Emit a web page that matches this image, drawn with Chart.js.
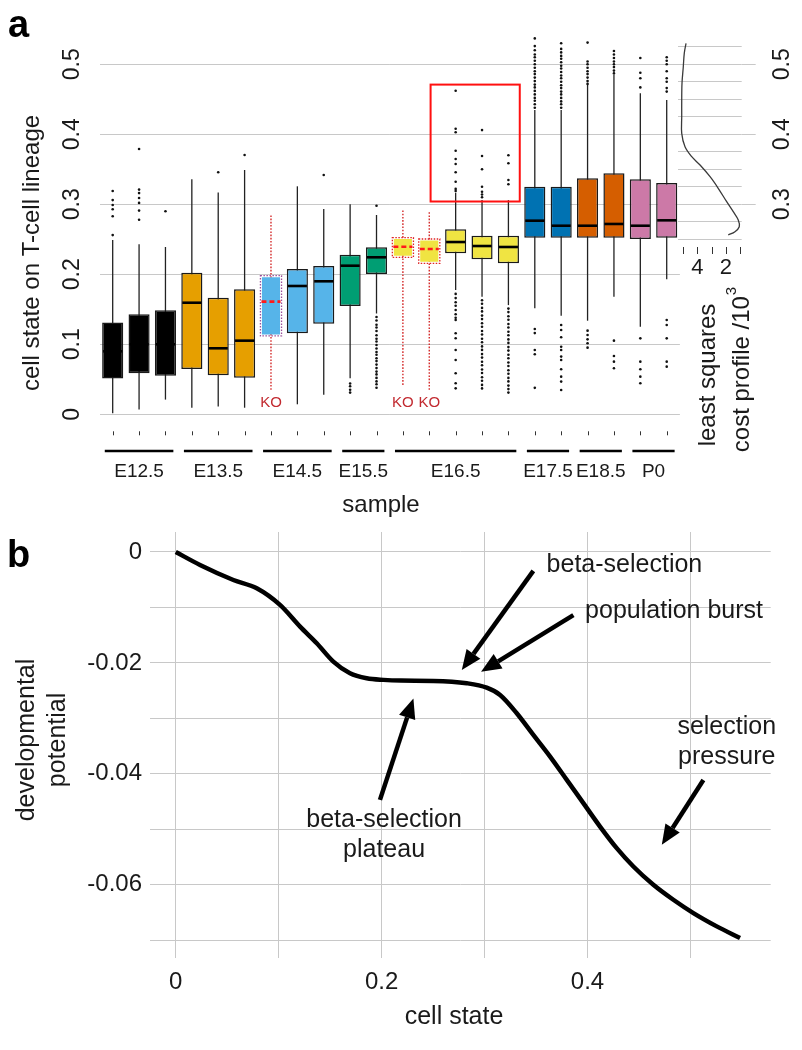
<!DOCTYPE html>
<html>
<head>
<meta charset="utf-8">
<script src="https://cdn.jsdelivr.net/npm/chart.js@4.4.0/dist/chart.umd.min.js"></script>
<style>
  body { margin: 0; background: #fff; }
  #wrap { position: relative; width: 802px; height: 1050px; }
  canvas { position: absolute; }
</style>
</head>
<body>
<div id="wrap">
  <canvas id="boxes" width="802" height="520" style="left:0;top:0"></canvas>
  <canvas id="profile" width="142" height="520" style="left:660px;top:0"></canvas>
  <canvas id="potential" width="802" height="530" style="left:0;top:520px"></canvas>
</div>
<script>
// ---- panel a: cell state per sample ----
const samples = ['E12.5 #1','E12.5 #2','E12.5 #3','E13.5 #1','E13.5 #2','E13.5 #3',
  'E14.5 KO','E14.5 #1','E14.5 #2','E15.5 #1','E15.5 #2',
  'E16.5 KO1','E16.5 KO2','E16.5 #1','E16.5 #2','E16.5 #3',
  'E17.5 #1','E17.5 #2','E18.5 #1','E18.5 #2','P0 #1','P0 #2'];
const q1 = [0.051,0.0586,0.055,0.0647,0.0557,0.0523,0.1119,0.1157,0.1294,0.1547,0.2004,
  0.2243,0.2157,0.23,0.2214,0.2157,0.2523,0.2523,0.2523,0.2523,0.2504,0.2523];
const q3 = [0.131,0.143,0.1486,0.2023,0.1666,0.1786,0.198,0.2076,0.2119,0.228,0.2386,
  0.2524,0.2504,0.2643,0.2551,0.2551,0.3251,0.3251,0.3371,0.3443,0.3357,0.3304];
const medians = [0.09,0.1,0.1,0.1594,0.0943,0.1052,0.161,0.1833,0.19,0.2123,0.2243,
  0.2394,0.2361,0.2461,0.2404,0.239,0.2766,0.2694,0.2694,0.2719,0.2694,0.2771];
const whiskerLow = [0.0014,0.007,0.021,0.0094,0.011,0.0094,0.035,0.0143,0.028,0.0514,0.144,
  0.042,0.035,0.1776,0.168,0.156,0.1514,0.1409,0.1337,0.168,0.125,0.1929];
const whiskerHigh = [0.249,0.243,0.239,0.3357,0.317,0.349,0.2847,0.3257,0.2933,0.30,0.2847,
  0.2919,0.2904,0.3166,0.3061,0.306,0.4347,0.4347,0.4704,0.4847,0.4586,0.449];
const outliers = [
  [0.256,0.283,0.293,0.299,0.306,0.319],
  [0.278,0.291,0.302,0.309,0.316,0.321,0.379],
  [0.29],
  [],
  [0.3457],
  [0.3704],
  [],
  [],
  [0.3419],
  [0.044,0.040,0.035,0.031],
  [0.298,0.139,0.134,0.128,0.124,0.119,0.113,0.108,0.104,0.099,0.094,0.089,0.085,0.08,0.076,
   0.071,0.066,0.061,0.057,0.052,0.047,0.043,0.038],
  [],
  [],
  [0.319,0.322,0.3323,0.3457,0.3576,0.3647,0.3766,0.4029,0.408,0.4623,
   0.172,0.166,0.16,0.155,0.149,0.143,0.138,0.1347,0.1157,0.1086,0.0919,0.0776,0.0586,0.0443,0.0371],
  [0.31,0.314,0.318,0.325,0.35,0.369,0.406,
   0.163,0.158,0.152,0.147,0.141,0.136,0.13,0.125,0.119,0.114,0.108,0.103,0.097,0.092,0.086,
   0.081,0.075,0.07,0.064,0.059,0.053,0.048,0.042,0.037],
  [0.3286,0.3347,0.3586,0.37,
   0.151,0.146,0.14,0.135,0.129,0.124,0.118,0.113,0.107,0.102,0.096,0.091,0.085,0.08,0.074,
   0.069,0.063,0.058,0.052,0.047,0.041,0.036,0.031],
  [0.438,0.443,0.448,0.452,0.457,0.462,0.467,0.471,0.476,0.481,0.486,0.49,0.495,0.5,0.505,
   0.51,0.514,0.52,0.526,0.537,0.1218,0.116,0.0919,0.0857,0.0378],
  [0.438,0.443,0.447,0.452,0.457,0.461,0.466,0.47,0.475,0.48,0.484,0.489,0.494,0.498,0.503,
   0.508,0.512,0.517,0.522,0.53,
   0.1276,0.1204,0.11,0.0966,0.0919,0.0824,0.0776,0.0643,0.0538,0.0467,0.0348],
  [0.472,0.476,0.481,0.486,0.49,0.495,0.5,0.504,0.531,0.1195,0.1133,0.1071,0.1014,0.0952],
  [0.487,0.491,0.496,0.5,0.504,0.509,0.514,0.519,0.1052,0.0833,0.0752,0.0657],
  [0.467,0.48,0.488,0.509,0.1085,0.0752,0.0643,0.0538,0.0443],
  [0.461,0.466,0.475,0.48,0.49,0.5,0.505,0.51,0.1347,0.1276,0.1085,0.0752,0.0681]
];
const knockout = [6, 11, 12];
const groups = ['E12.5','E13.5','E14.5','E15.5','E16.5','E17.5','E18.5','P0'];
const groupStart = [0, 3, 6, 9, 11, 16, 18, 20];
const groupEnd = [2, 5, 8, 10, 15, 17, 19, 21];
const yTicksA = [0, 0.1, 0.2, 0.3, 0.4, 0.5];

// marginal cost profile
const profileState = [0.530,0.516,0.4966,0.4729,0.449,0.4251,0.4014,0.3823,0.368,0.3561,
  0.3394,0.3229,0.3037,0.2894,0.2776,0.268,0.2609,0.2561];
const profileCost = [4.79,4.91,4.98,5.07,5.09,5.09,5.09,4.86,4.39,3.81,
  3.11,2.54,1.95,1.49,1.14,1.07,1.37,1.84];
const profileTicks = [5, 4, 3, 2, 1];
const profileTickLabels = ['', '4', '', '2', ''];
const profileGrid = [0.25,0.275,0.3,0.325,0.35,0.375,0.4,0.425,0.45,0.475,0.5,0.525];
const rightTicks = [0.3, 0.4, 0.5];

// ---- panel b: developmental potential ----
const cellState = [0,0.0236,0.056,0.0787,0.1013,0.1208,0.137,0.1531,0.1693,0.1856,0.2017,
  0.2186,0.2503,0.2827,0.3021,0.3151,0.3313,0.3474,0.3637,0.3799,0.396,0.4122,0.4284,
  0.4446,0.464,0.4834,0.5029,0.5256,0.5482];
const potential = [0,-0.00234,-0.00505,-0.00655,-0.00955,-0.01346,-0.01645,-0.01976,-0.02186,
  -0.02276,-0.02306,-0.02319,-0.02324,-0.02366,-0.02445,-0.02577,-0.02907,-0.03297,-0.03688,
  -0.04108,-0.04528,-0.0495,-0.05339,-0.0567,-0.06,-0.0627,-0.0651,-0.0675,-0.0696];
const xTicksB = [0, 0.1, 0.2, 0.3, 0.4, 0.5];
const xLabelsB = ['0', '', '0.2', '', '0.4', ''];
const yTicksB = [0, -0.01, -0.02, -0.03, -0.04, -0.05, -0.06, -0.07];
const yLabelsB = ['0', '', '-0.02', '', '-0.04', '', '-0.06', ''];

const notes = [
  { text: ['beta-selection'], x: 0.3603, y: -0.0023, align: 'left' },
  { text: ['population burst'], x: 0.3977, y: -0.0106, align: 'left' },
  { text: ['selection', 'pressure'], x: 0.5353, y: -0.0315, align: 'center' },
  { text: ['beta-selection', 'plateau'], x: 0.2024, y: -0.0483, align: 'center' }
];
const arrows = [
  { from: [0.3474, -0.0034], to: [0.2779, -0.0213] },
  { from: [0.3863, -0.0114], to: [0.2966, -0.0216] },
  { from: [0.1984, -0.0447], to: [0.2309, -0.0264] },
  { from: [0.5126, -0.0411], to: [0.4722, -0.0528] }
];

const FONT = '"Liberation Sans", Arial, Helvetica, sans-serif';
const INK = '#1a1a1a';
const GRID = '#c8c8c8';
const palette = ['#000000','#000000','#000000','#E69F00','#E69F00','#E69F00',
  '#56B4E9','#56B4E9','#56B4E9','#009E73','#009E73',
  '#F0E442','#F0E442','#F0E442','#F0E442','#F0E442',
  '#0072B2','#0072B2','#D55E00','#D55E00','#CC79A7','#CC79A7'];
const koEdge = { 6: '#9a4f9a', 11: '#e02424', 12: '#e02424' };

function rotText(ctx, txt, x, y, font) {
  ctx.save();
  ctx.translate(x, y);
  ctx.rotate(-Math.PI / 2);
  ctx.font = font;
  ctx.textAlign = 'center';
  ctx.textBaseline = 'middle';
  ctx.fillText(txt, 0, 0);
  ctx.restore();
}

const boxExtras = {
  id: 'boxExtras',
  beforeDatasetsDraw(chart) {
    const { ctx, scales: { x, y } } = chart;
    ctx.save();
    samples.forEach((s, i) => {
      const px = x.getPixelForValue(i);
      const ko = knockout.includes(i);
      ctx.strokeStyle = ko ? '#d42a2a' : '#222';
      ctx.lineWidth = ko ? 1.4 : 1.3;
      ctx.setLineDash(ko ? [1.6, 1.6] : []);
      ctx.beginPath();
      ctx.moveTo(px, y.getPixelForValue(whiskerLow[i]));
      ctx.lineTo(px, y.getPixelForValue(whiskerHigh[i]));
      ctx.stroke();
    });
    ctx.restore();
  },
  afterDatasetsDraw(chart) {
    const { ctx, scales: { x, y } } = chart;
    const bars = chart.getDatasetMeta(0).data;
    ctx.save();
    samples.forEach((s, i) => {
      const b = bars[i];
      const l = b.x - b.width / 2, r = b.x + b.width / 2;
      const ko = knockout.includes(i);
      if (ko) {
        ctx.strokeStyle = koEdge[i];
        ctx.lineWidth = 1.3;
        ctx.setLineDash([1.5, 1.5]);
        const t = y.getPixelForValue(q3[i]), bt = y.getPixelForValue(q1[i]);
        ctx.strokeRect(l, t, r - l, bt - t);
      }
      ctx.strokeStyle = ko ? '#ff1a1a' : '#000';
      ctx.lineWidth = 2.6;
      ctx.setLineDash(ko ? [5, 3] : []);
      const m = y.getPixelForValue(medians[i]);
      ctx.beginPath();
      ctx.moveTo(l + 1, m);
      ctx.lineTo(r - 1, m);
      ctx.stroke();
    });
    ctx.setLineDash([]);
    // highlighted region (red frame)
    ctx.strokeStyle = '#ff1010';
    ctx.lineWidth = 2;
    const hx0 = x.getPixelForValue(12.05), hx1 = x.getPixelForValue(15.43);
    const hy0 = y.getPixelForValue(0.471), hy1 = y.getPixelForValue(0.304);
    ctx.strokeRect(hx0, hy0, hx1 - hx0, hy1 - hy0);
    ctx.restore();
  },
  afterDraw(chart) {
    const { ctx, chartArea, scales: { x, y } } = chart;
    ctx.save();
    ctx.fillStyle = INK;
    yTicksA.forEach(v => rotText(ctx, String(v), 72.5, y.getPixelForValue(v), '23px ' + FONT));
    rotText(ctx, 'cell state on T-cell lineage', 32, 253, '24px ' + FONT);
    // category ticks
    ctx.strokeStyle = '#333';
    ctx.lineWidth = 1;
    samples.forEach((s, i) => {
      const px = Math.round(x.getPixelForValue(i)) + 0.5;
      ctx.beginPath();
      ctx.moveTo(px, chartArea.bottom + 3);
      ctx.lineTo(px, chartArea.bottom + 7);
      ctx.stroke();
    });
    // group bars and labels
    ctx.strokeStyle = '#000';
    ctx.lineWidth = 2.6;
    ctx.font = '19px ' + FONT;
    ctx.textAlign = 'center';
    ctx.textBaseline = 'middle';
    groups.forEach((g, k) => {
      const a = x.getPixelForValue(groupStart[k] - 0.3);
      const b = x.getPixelForValue(groupEnd[k] + 0.3);
      ctx.beginPath();
      ctx.moveTo(a, 451);
      ctx.lineTo(b, 451);
      ctx.stroke();
      ctx.fillText(g, (a + b) / 2, 472);
    });
    ctx.font = '24px ' + FONT;
    ctx.fillText('sample', 381, 505);
    // KO labels
    ctx.fillStyle = '#c22a30';
    ctx.font = '15px ' + FONT;
    knockout.forEach(i => ctx.fillText('KO', x.getPixelForValue(i), y.getPixelForValue(0.017)));
    // panel letter
    ctx.fillStyle = '#000';
    ctx.font = 'bold 38px ' + FONT;
    ctx.textAlign = 'left';
    ctx.textBaseline = 'alphabetic';
    ctx.fillText('a', 8, 37);
    ctx.restore();
  }
};

const outlierPoints = [];
outliers.forEach((vals, i) => vals.forEach(v => outlierPoints.push({ x: samples[i], y: v })));

new Chart(document.getElementById('boxes'), {
  data: {
    labels: samples,
    datasets: [
      {
        type: 'bar',
        data: samples.map((s, i) => [q1[i], q3[i]]),
        backgroundColor: palette,
        borderColor: samples.map((s, i) => knockout.includes(i) ? 'rgba(0,0,0,0)' : '#1a1a1a'),
        borderWidth: 1.5,
        borderSkipped: false,
        barPercentage: 0.8,
        categoryPercentage: 1,
        grouped: false,
        order: 2
      },
      {
        type: 'line',
        data: outlierPoints,
        showLine: false,
        pointRadius: 1.3,
        pointBorderWidth: 0,
        pointBackgroundColor: '#111',
        order: 1
      }
    ]
  },
  options: {
    responsive: false,
    animation: false,
    events: [],
    layout: { padding: { left: 99.5, right: 122.1, top: 32.8, bottom: 91.7 } },
    plugins: { legend: { display: false }, tooltip: { enabled: false } },
    scales: {
      x: {
        type: 'category', offset: true,
        grid: { display: false }, ticks: { display: false }, border: { display: false },
        afterFit: s => { s.height = 0; }
      },
      y: {
        type: 'linear', min: -0.02, max: 0.545,
        ticks: { display: false }, border: { display: false },
        grid: { color: GRID, drawTicks: false },
        afterFit: s => { s.width = 0; },
        afterBuildTicks: s => { s.ticks = yTicksA.map(v => ({ value: v })); }
      }
    }
  },
  plugins: [boxExtras]
});

// ---- marginal least squares cost profile ----
const profileExtras = {
  id: 'profileExtras',
  afterDraw(chart) {
    const { ctx, chartArea, scales: { x, y } } = chart;
    ctx.save();
    ctx.strokeStyle = GRID;
    ctx.lineWidth = 1;
    rightTicks.forEach(v => {
      const py = Math.round(y.getPixelForValue(v)) + 0.5;
      ctx.beginPath();
      ctx.moveTo(chartArea.right, py);
      ctx.lineTo(chartArea.right + 14, py);
      ctx.stroke();
    });
    ctx.strokeStyle = '#333';
    profileTicks.forEach((t, k) => {
      const px = Math.round(x.getPixelForValue(t)) + 0.5;
      ctx.beginPath();
      ctx.moveTo(px, 247);
      ctx.lineTo(px, 254);
      ctx.stroke();
    });
    ctx.fillStyle = INK;
    ctx.font = '22px ' + FONT;
    ctx.textAlign = 'center';
    ctx.textBaseline = 'middle';
    profileTicks.forEach((t, k) => {
      if (profileTickLabels[k]) ctx.fillText(profileTickLabels[k], x.getPixelForValue(t), 268);
    });
    rightTicks.forEach(v => rotText(ctx, String(v), 123, y.getPixelForValue(v), '23px ' + FONT));
    rotText(ctx, 'least squares', 48, 375, '24px ' + FONT);
    // "cost profile /10^3" with superscript
    ctx.translate(82, 370);
    ctx.rotate(-Math.PI / 2);
    ctx.font = '24px ' + FONT;
    const main = 'cost profile /10';
    const w = ctx.measureText(main).width;
    ctx.font = '15px ' + FONT;
    const ws = ctx.measureText('3').width;
    const start = -(w + ws) / 2;
    ctx.textAlign = 'left';
    ctx.font = '24px ' + FONT;
    ctx.fillText(main, start, 0);
    ctx.font = '15px ' + FONT;
    ctx.fillText('3', start + w + 1, -10);
    ctx.restore();
  }
};

new Chart(document.getElementById('profile'), {
  type: 'line',
  data: {
    datasets: [{
      data: profileState.map((v, i) => ({ x: profileCost[i], y: v })),
      borderColor: '#3a3a3a',
      borderWidth: 1.3,
      pointRadius: 0,
      tension: 0.35,
      fill: false
    }]
  },
  options: {
    responsive: false,
    animation: false,
    events: [],
    layout: { padding: { left: 18, right: 60.3, top: 32.8, bottom: 91.7 } },
    plugins: { legend: { display: false }, tooltip: { enabled: false } },
    scales: {
      x: {
        type: 'linear', min: 0.9, max: 5.35, reverse: true,
        grid: { display: false }, ticks: { display: false }, border: { display: false },
        afterFit: s => { s.height = 0; }
      },
      y: {
        type: 'linear', min: -0.02, max: 0.545,
        ticks: { display: false }, border: { display: false },
        grid: { color: GRID, drawTicks: false },
        afterFit: s => { s.width = 0; },
        afterBuildTicks: s => { s.ticks = profileGrid.map(v => ({ value: v })); }
      }
    }
  },
  plugins: [profileExtras]
});

// ---- panel b ----
function drawArrow(ctx, x0, y0, x1, y1) {
  const a = Math.atan2(y1 - y0, x1 - x0), L = 20, W = 8.5;
  const bx = x1 - L * Math.cos(a), by = y1 - L * Math.sin(a);
  ctx.lineWidth = 4.5;
  ctx.beginPath();
  ctx.moveTo(x0, y0);
  ctx.lineTo(bx, by);
  ctx.stroke();
  ctx.beginPath();
  ctx.moveTo(x1, y1);
  ctx.lineTo(bx - W * Math.sin(a), by + W * Math.cos(a));
  ctx.lineTo(bx + W * Math.sin(a), by - W * Math.cos(a));
  ctx.closePath();
  ctx.fill();
}

const potentialExtras = {
  id: 'potentialExtras',
  afterDatasetsDraw(chart) {
    const { ctx, scales: { x, y } } = chart;
    ctx.save();
    ctx.strokeStyle = '#000';
    ctx.fillStyle = '#000';
    arrows.forEach(a => drawArrow(ctx,
      x.getPixelForValue(a.from[0]), y.getPixelForValue(a.from[1]),
      x.getPixelForValue(a.to[0]), y.getPixelForValue(a.to[1])));
    ctx.fillStyle = INK;
    ctx.font = '25px ' + FONT;
    ctx.textBaseline = 'middle';
    notes.forEach(n => {
      ctx.textAlign = n.align;
      n.text.forEach((t, k) => ctx.fillText(t, x.getPixelForValue(n.x), y.getPixelForValue(n.y) + k * 30));
    });
    ctx.restore();
  },
  afterDraw(chart) {
    const { ctx, scales: { x, y } } = chart;
    ctx.save();
    ctx.fillStyle = INK;
    ctx.font = '24px ' + FONT;
    ctx.textBaseline = 'middle';
    ctx.textAlign = 'right';
    yTicksB.forEach((v, k) => { if (yLabelsB[k]) ctx.fillText(yLabelsB[k], 142, y.getPixelForValue(v)); });
    ctx.textAlign = 'center';
    xTicksB.forEach((v, k) => { if (xLabelsB[k]) ctx.fillText(xLabelsB[k], x.getPixelForValue(v), 462); });
    ctx.font = '25px ' + FONT;
    ctx.fillText('cell state', 454, 497);
    rotText(ctx, 'developmental', 27, 220, '25px ' + FONT);
    rotText(ctx, 'potential', 58, 220, '25px ' + FONT);
    ctx.fillStyle = '#000';
    ctx.font = 'bold 38px ' + FONT;
    ctx.textAlign = 'left';
    ctx.textBaseline = 'alphabetic';
    ctx.fillText('b', 7, 47);
    ctx.restore();
  }
};

new Chart(document.getElementById('potential'), {
  type: 'line',
  data: {
    datasets: [{
      data: cellState.map((v, i) => ({ x: v, y: potential[i] })),
      borderColor: '#000',
      borderWidth: 4.5,
      pointRadius: 0,
      cubicInterpolationMode: 'monotone',
      fill: false
    }]
  },
  options: {
    responsive: false,
    animation: false,
    events: [],
    layout: { padding: { left: 150, right: 31.3, top: 12, bottom: 92 } },
    plugins: { legend: { display: false }, tooltip: { enabled: false } },
    scales: {
      x: {
        type: 'linear', min: -0.025, max: 0.578,
        ticks: { display: false }, border: { display: false },
        grid: { color: GRID, drawTicks: false },
        afterFit: s => { s.height = 0; },
        afterBuildTicks: s => { s.ticks = xTicksB.map(v => ({ value: v })); }
      },
      y: {
        type: 'linear', min: -0.0732, max: 0.0036,
        ticks: { display: false }, border: { display: false },
        grid: { color: GRID, drawTicks: false },
        afterFit: s => { s.width = 0; },
        afterBuildTicks: s => { s.ticks = yTicksB.map(v => ({ value: v })); }
      }
    }
  },
  plugins: [potentialExtras]
});
</script>
</body>
</html>
